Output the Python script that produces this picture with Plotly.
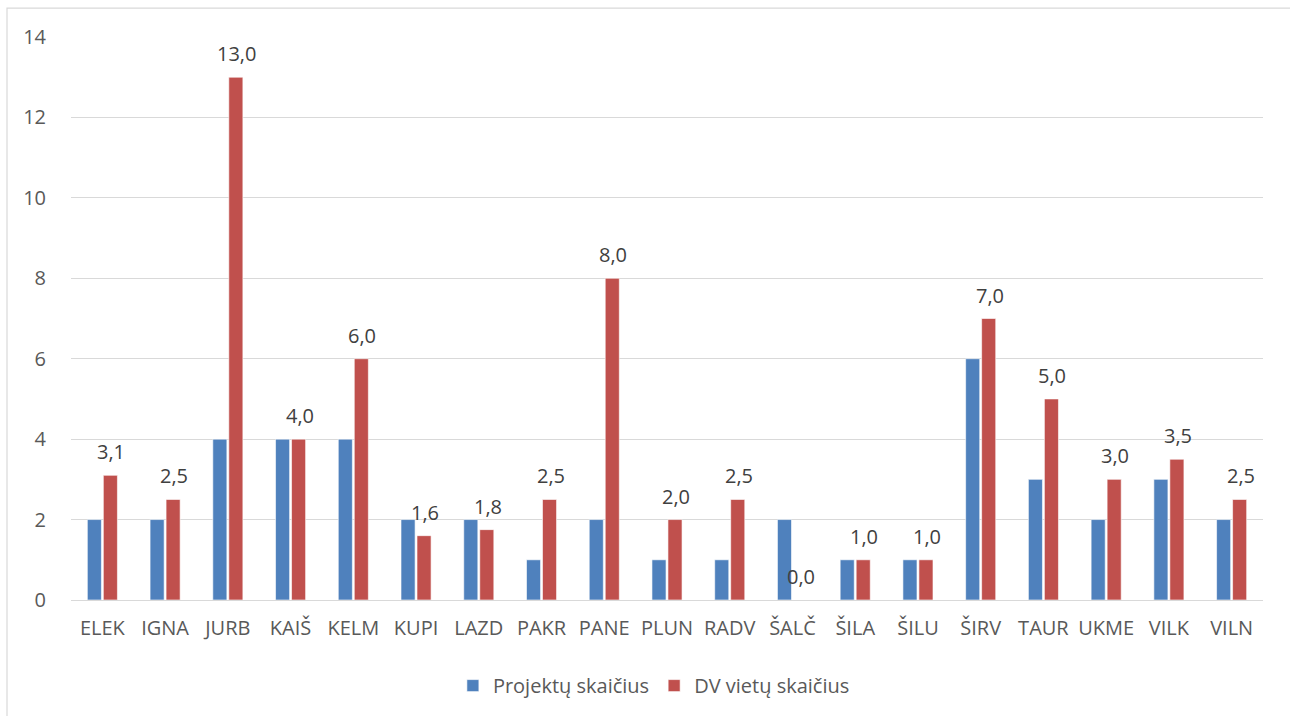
import plotly.graph_objects as go

# municipalities (x categories)
categories = ["ELEK", "IGNA", "JURB", "KAIŠ", "KELM", "KUPI", "LAZD", "PAKR", "PANE",
              "PLUN", "RADV", "ŠALČ", "ŠILA", "ŠILU", "ŠIRV", "TAUR", "UKME", "VILK", "VILN"]

# series values
projektu_skaicius = [2, 2, 4, 4, 4, 2, 2, 1, 2, 1, 1, 2, 1, 1, 6, 3, 2, 3, 2]
dv_vietu_skaicius = [3.1, 2.5, 13, 4, 6, 1.6, 1.75, 2.5, 8, 2, 2.5, 0, 1, 1, 7, 5, 3, 3.5, 2.5]

y_ticks = [0, 2, 4, 6, 8, 10, 12, 14]

BLUE = "#4F81BD"
RED = "#C0504D"
TEXT = "#595959"
GRID = "#D9D9D9"
FONT = "Open Sans, Noto Sans, sans-serif"

W, H = 1290, 716
M_L, M_R, M_T, M_B = 71, 27, 37, 115
plot_w = W - M_L - M_R
plot_h = H - M_T - M_B

fig = go.Figure()

fig.add_trace(go.Bar(
    x=categories, y=projektu_skaicius, name="Projektų skaičius",
    marker=dict(color=BLUE, line=dict(color="white", width=0.6)),
))

fig.add_trace(go.Bar(
    x=categories, y=dv_vietu_skaicius, name="DV vietų skaičius",
    marker=dict(color=RED, line=dict(color="white", width=0.6)),
))

# data labels above the red bars (Excel puts them a bit higher than plotly's outside text)
for cat, v in zip(categories, dv_vietu_skaicius):
    fig.add_annotation(
        x=cat, y=v, text=f"{v:.1f}".replace(".", ","),
        showarrow=False, yanchor="bottom", xshift=9, yshift=8,
        font=dict(size=20, color="#404040", family=FONT),
    )

# outer chart frame (Excel style), partly outside the window
fig.add_shape(
    type="rect", xref="paper", yref="paper",
    x0=(7 - M_L) / plot_w, x1=(W + 10 - M_L) / plot_w,
    y0=-(M_B + 10) / plot_h, y1=(M_T - 8) / plot_h + 1,
    line=dict(color=GRID, width=1.2), fillcolor="rgba(0,0,0,0)", layer="below",
)

fig.update_layout(
    width=W, height=H,
    margin=dict(l=M_L, r=M_R, t=M_T, b=M_B),
    paper_bgcolor="white", plot_bgcolor="white",
    barmode="group", bargap=0.49, bargroupgap=0.12,
    font=dict(family=FONT, color=TEXT, size=20),
    showlegend=True,
    legend=dict(
        orientation="h", x=0.489, xanchor="center", y=-0.15, yanchor="middle",
        font=dict(size=20, color=TEXT), itemwidth=30, traceorder="normal",
    ),
    xaxis=dict(
        showgrid=False, showline=False, ticks="", tickfont=dict(size=20, color=TEXT),
        zeroline=False, ticklabelstandoff=14,
    ),
    yaxis=dict(
        range=[0, 14], tickvals=y_ticks, showgrid=True, gridcolor=GRID, gridwidth=1.2,
        zeroline=True, zerolinecolor=GRID, zerolinewidth=1.2, showline=False,
        ticks="", ticklabelstandoff=24, tickfont=dict(size=20, color=TEXT),
    ),
)

# the page body has a default 8px margin; drop it so the figure sits at the top-left corner
fig.write_html("out.html", config={"displayModeBar": False},
               post_script="document.body.style.margin='0';")
